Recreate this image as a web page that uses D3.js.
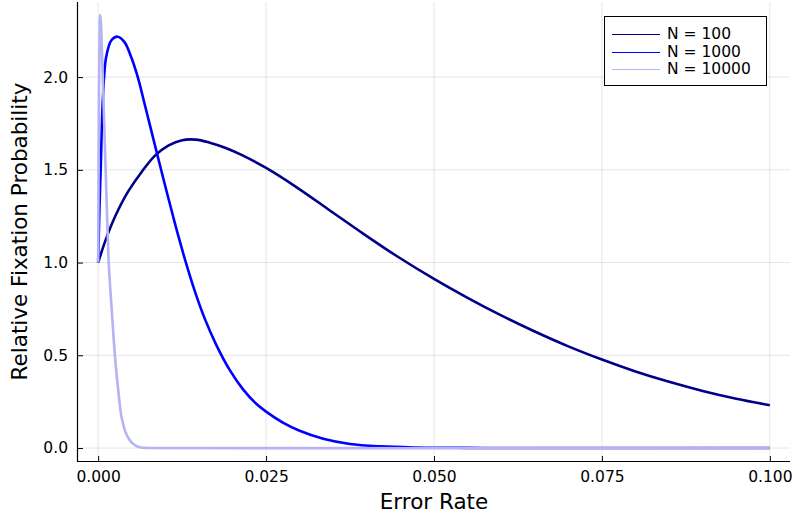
<!DOCTYPE html>
<html>
<head>
<meta charset="utf-8">
<script src="https://cdn.jsdelivr.net/npm/d3@7"></script>
<style>
  html, body { margin: 0; padding: 0; background: #fff; }
  svg { display: block; font-family: "DejaVu Sans", sans-serif; }
</style>
</head>
<body>
<svg id="chart" width="794" height="517"></svg>
<script>
// ---- data ----
const seriesNames = ["N = 100", "N = 1000", "N = 10000"];

const xN100 = [0, 0.001, 0.002, 0.003, 0.0045, 0.0065, 0.0085, 0.0105, 0.0125, 0.0145, 0.0165, 0.019, 0.0215, 0.025, 0.0295, 0.0345, 0.0395, 0.0445, 0.05, 0.055, 0.06, 0.065, 0.07, 0.075, 0.08, 0.085, 0.09, 0.095, 0.1];
const yN100 = [1.0, 1.11, 1.205, 1.285, 1.385, 1.49, 1.578, 1.632, 1.66, 1.663, 1.648, 1.618, 1.578, 1.51, 1.407, 1.281, 1.155, 1.034, 0.912, 0.81, 0.715, 0.628, 0.548, 0.477, 0.413, 0.357, 0.308, 0.266, 0.231];

const xN1000 = [0, 0.0002, 0.0004, 0.0007, 0.0012, 0.002, 0.0029, 0.0039, 0.0049, 0.0059, 0.0069, 0.0084, 0.0099, 0.0114, 0.0129, 0.0144, 0.0159, 0.0176, 0.0196, 0.0216, 0.0235, 0.025, 0.0275, 0.03, 0.0335, 0.0375, 0.042, 0.047, 0.055, 0.065, 0.1];
const yN1000 = [1.0, 1.3, 1.53, 1.88, 2.11, 2.2, 2.218, 2.19, 2.11, 2.0, 1.858, 1.64, 1.425, 1.215, 1.02, 0.845, 0.695, 0.555, 0.42, 0.315, 0.24, 0.196, 0.137, 0.093, 0.05, 0.022, 0.009, 0.003, 0.0008, 0.0001, 0];

const xN10000 = [0, 0.00005, 0.0001, 0.0002, 0.0003, 0.0004, 0.0006, 0.0008, 0.001, 0.0012, 0.0014, 0.0016, 0.002, 0.0025, 0.003, 0.0035, 0.0042, 0.005, 0.006, 0.007, 0.008, 0.1];
const yN10000 = [1.0, 1.4, 1.75, 2.2, 2.335, 2.3, 2.1, 1.87, 1.63, 1.4, 1.18, 0.98, 0.758, 0.497, 0.308, 0.164, 0.074, 0.029, 0.006, 0.001, 0, 0];

const xTicks = [0, 0.025, 0.05, 0.075, 0.1];
const yTicks = [0, 0.5, 1.0, 1.5, 2.0];
const xTitle = "Error Rate";
const yTitle = "Relative Fixation Probability";

// ---- styling ----
const colors = ["#00008b", "#0000ff", "#b3b3f5"];

const svg = d3.select("#chart");
const L = 78, R = 790, T = 2, B = 461;

const x = d3.scaleLinear().domain([-0.003, 0.103]).range([L, R]);
const y = d3.scaleLinear().domain([-0.07, 2.405]).range([B, T]);

// grid
const grid = svg.append("g");
grid.selectAll("line.gx").data(xTicks).enter().append("line")
  .attr("x1", d => x(d)).attr("x2", d => x(d)).attr("y1", T).attr("y2", B)
  .attr("stroke", "#000").attr("stroke-opacity", 0.1).attr("stroke-width", 1);
grid.selectAll("line.gy").data(yTicks).enter().append("line")
  .attr("y1", d => y(d)).attr("y2", d => y(d)).attr("x1", L).attr("x2", R)
  .attr("stroke", "#000").attr("stroke-opacity", 0.1).attr("stroke-width", 1);

// axes
const xAxis = d3.axisBottom(x).tickValues(xTicks).tickFormat(d3.format(".3f")).tickSizeInner(-5).tickSizeOuter(0).tickPadding(10);
const yAxis = d3.axisLeft(y).tickValues(yTicks).tickFormat(d3.format(".1f")).tickSizeInner(-5).tickSizeOuter(0).tickPadding(10);

const gx = svg.append("g").attr("transform", `translate(0,${B})`).call(xAxis);
const gy = svg.append("g").attr("transform", `translate(${L},0)`).call(yAxis);
[gx, gy].forEach(g => {
  g.select(".domain").remove();
  g.selectAll(".tick line").attr("stroke", "#000").attr("stroke-width", 1);
  g.selectAll(".tick text").attr("fill", "#000").style("font-size", "15.5px").style("font-family", "DejaVu Sans");
});
svg.append("line").attr("x1", L).attr("x2", R).attr("y1", B + 0.5).attr("y2", B + 0.5).attr("stroke", "#000").attr("stroke-width", 1.2);
svg.append("line").attr("x1", L - 0.5).attr("x2", L - 0.5).attr("y1", T).attr("y2", B + 1).attr("stroke", "#000").attr("stroke-width", 1.2);

// lines
const series = [
  { name: seriesNames[0], xs: xN100, ys: yN100, color: colors[0] },
  { name: seriesNames[1], xs: xN1000, ys: yN1000, color: colors[1] },
  { name: seriesNames[2], xs: xN10000, ys: yN10000, color: colors[2] }
];
const line = d3.line().x(d => x(d[0])).y(d => y(d[1])).curve(d3.curveCatmullRom.alpha(0.5));
series.forEach(s => {
  svg.append("path")
    .datum(s.xs.map((v, i) => [v, s.ys[i]]))
    .attr("d", line)
    .attr("fill", "none")
    .attr("stroke", s.color)
    .attr("stroke-width", 2.6)
    .attr("stroke-linejoin", "round");
});

// titles
svg.append("text").attr("x", (L + R) / 2).attr("y", 509).attr("text-anchor", "middle")
  .style("font-size", "21.5px").attr("fill", "#000").text(xTitle);
svg.append("text").attr("transform", `translate(27,${(T + B) / 2}) rotate(-90)`).attr("text-anchor", "middle")
  .style("font-size", "21.5px").attr("fill", "#000").text(yTitle);

// legend
const lg = svg.append("g");
lg.append("rect").attr("x", 604.5).attr("y", 16.5).attr("width", 162).attr("height", 69)
  .attr("fill", "#fff").attr("stroke", "#000").attr("stroke-width", 1);
series.forEach((s, i) => {
  const yy = Math.round(34 + i * 17.5);
  lg.append("line").attr("x1", 612).attr("x2", 660).attr("y1", yy + 0.5).attr("y2", yy + 0.5)
    .attr("stroke", s.color).attr("stroke-width", 1.2);
  lg.append("text").attr("x", 667).attr("y", yy).attr("dy", "0.35em")
    .style("font-size", "15.5px").attr("fill", "#000").text(s.name);
});
</script>
</body>
</html>
